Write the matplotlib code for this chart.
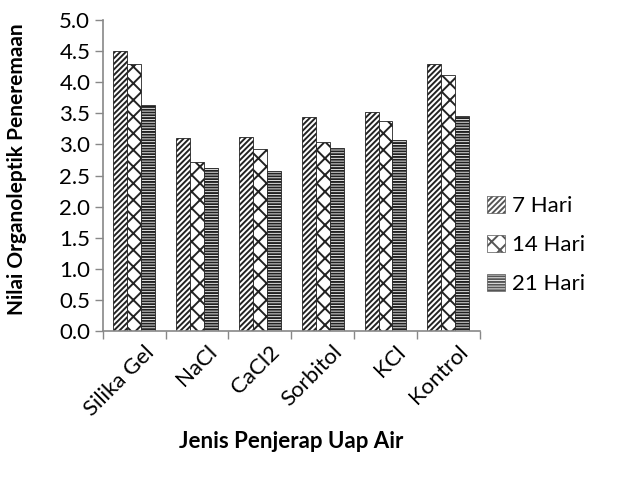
import numpy as np
import matplotlib.pyplot as plt
from matplotlib.patches import Patch

plt.rcParams['font.family'] = ['Lato', 'DejaVu Sans']
plt.rcParams['hatch.linewidth'] = 1.4

kategori = ['Silika Gel', 'NaCl', 'CaCl2', 'Sorbitol', 'KCl', 'Kontrol']
hari_7 = [4.51, 3.11, 3.12, 3.44, 3.53, 4.29]
hari_14 = [4.29, 2.71, 2.92, 3.04, 3.38, 4.12]
hari_21 = [3.63, 2.62, 2.57, 2.95, 3.07, 3.45]
seri = ['7 Hari', '14 Hari', '21 Hari']

fig = plt.figure(figsize=(6.23, 4.79), dpi=100)
ax = fig.add_axes([0.165, 0.309, 0.605, 0.649])

x = np.arange(len(kategori))
w = 0.222
pola = ['//////', 'xx', '------']
for i, (vals, h) in enumerate(zip([hari_7, hari_14, hari_21], pola)):
    ax.bar(x + (i - 1) * w, vals, w, color='white', edgecolor='#222222',
           hatch=h, linewidth=0.6)

ax.set_xlim(-0.5, len(kategori) - 0.5)
ax.set_ylim(0, 5)
ax.set_yticks(np.arange(0, 5.01, 0.5))
ax.set_yticklabels([f'{v:.1f}' for v in np.arange(0, 5.01, 0.5)], fontsize=16)

ax.set_xticks(x + 0.15)
ax.set_xticklabels(kategori, fontsize=16, rotation=45, ha='right',
                   rotation_mode='anchor')
ax.tick_params(axis='x', length=0, pad=8)
ax.set_xticks(np.arange(-0.5, len(kategori)), minor=True)
ax.tick_params(axis='x', which='minor', length=6, color='#888888', width=1)
ax.tick_params(axis='y', length=6, color='#888888', width=1, pad=3)

for s in ['top', 'right']:
    ax.spines[s].set_visible(False)
for s in ['left', 'bottom']:
    ax.spines[s].set_color('#888888')
    ax.spines[s].set_linewidth(1.2)

ax.set_ylabel('Nilai Organoleptik Peneremaan', fontsize=15, fontweight='bold')
ax.yaxis.set_label_coords(-0.2, 0.52)
ax.set_xlabel('Jenis Penjerap Uap Air', fontsize=16, fontweight='bold',
              labelpad=8)

handles = [Patch(facecolor='white', edgecolor='#555555', hatch=h, linewidth=0.5)
           for h in pola]
fig.legend(handles, seri, loc='center left', bbox_to_anchor=(0.75, 0.489),
           frameon=False, fontsize=16, handlelength=0.8, handleheight=0.8,
           handletextpad=0.3, labelspacing=0.85)

fig.savefig('out.png', dpi=100)
